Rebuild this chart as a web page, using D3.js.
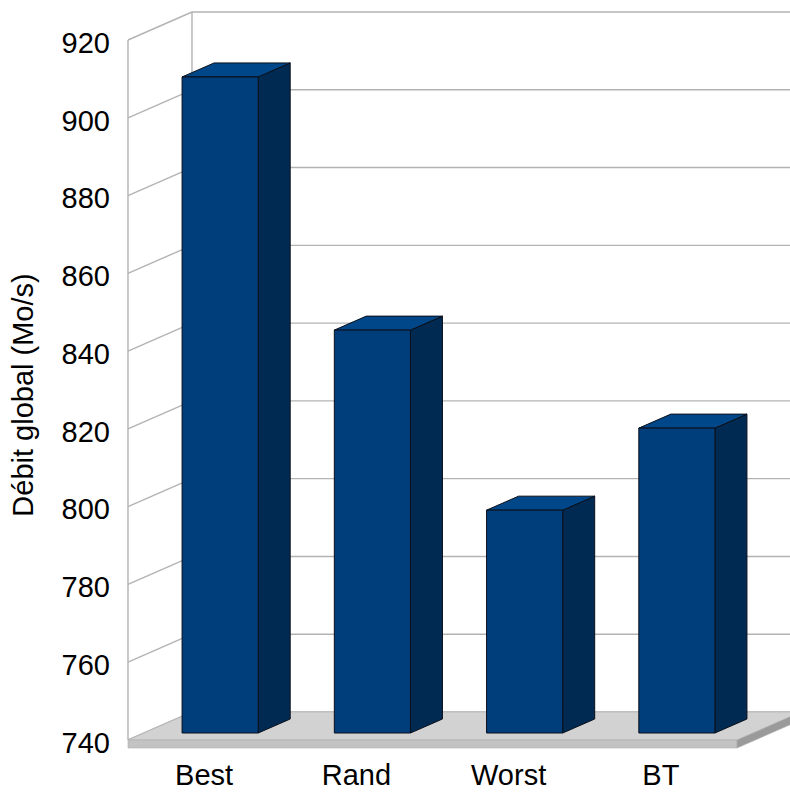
<!DOCTYPE html>
<html>
<head>
<meta charset="utf-8">
<script src="https://cdn.jsdelivr.net/npm/d3@7"></script>
<style>
  html, body { margin: 0; padding: 0; background: #ffffff; }
  svg { display: block; }
  text { font-family: "Liberation Sans", Arial, sans-serif; fill: #000; }
</style>
</head>
<body>
<svg id="chart" width="790" height="792"></svg>
<script>
// Débit global par stratégie
const categories = ["Best", "Rand", "Worst", "BT"];
const debit = [908.7, 843.6, 797.3, 818.4];
const tickValues = [740, 760, 780, 800, 820, 840, 860, 880, 900, 920];
const yTitle = "Débit global (Mo/s)";

const svg = d3.select("#chart");

// front plane of the 3D box
const x0 = 128, x1 = 737, yBottom = 740, yTop = 40;
// oblique depth vector (full depth of the box)
const depth = { dx: 64, dy: -28 };
// projects a depth fraction (0 = front, 1 = back) to pixel offsets
const dz = d3.scaleLinear().domain([0, 1]).range([0, 1]);
const off = t => [depth.dx * dz(t), depth.dy * dz(t)];

const y = d3.scaleLinear().domain([740, 920]).range([yBottom, yTop]);
const x = d3.scaleBand().domain(categories).range([x0, x1])
  .paddingInner(0.5).paddingOuter(0.25);

const gridColor = "#b3b3b3";
const [bx, by] = off(1);

// walls: gridlines on the back wall and the left side wall
const walls = svg.append("g").attr("fill", "none").attr("stroke", gridColor).attr("stroke-width", 1.4);
tickValues.forEach(v => {
  const yy = y(v);
  walls.append("line").attr("x1", x0 + bx).attr("x2", x1 + bx + 10)
    .attr("y1", yy + by).attr("y2", yy + by);
  walls.append("line").attr("x1", x0).attr("x2", x0 + bx)
    .attr("y1", yy).attr("y2", yy + by);
});
walls.append("line").attr("x1", x0).attr("x2", x0).attr("y1", y(920)).attr("y2", y(740));
walls.append("line").attr("x1", x0 + bx).attr("x2", x0 + bx).attr("y1", y(920) + by).attr("y2", y(740) + by);

// floor slab
const slab = 8;
const floor = svg.append("g").attr("stroke", "#b0b0b0").attr("stroke-width", 0.6);
const pts = a => a.map(p => p.join(",")).join(" ");
floor.append("polygon").attr("fill", "#d2d2d2")
  .attr("points", pts([[x0, yBottom], [x1, yBottom], [x1 + bx, yBottom + by], [x0 + bx, yBottom + by]]));
floor.append("polygon").attr("fill", "#c3c3c3")
  .attr("points", pts([[x0, yBottom], [x1, yBottom], [x1, yBottom + slab], [x0, yBottom + slab]]));
floor.append("polygon").attr("fill", "#9a9a9a")
  .attr("points", pts([[x1, yBottom], [x1 + bx, yBottom + by], [x1 + bx, yBottom + by + slab], [x1, yBottom + slab]]));

// bars: front face at depth 0.25, back face at 0.75
const [fx, fy] = off(0.25);
const [kx, ky] = off(0.75);
const bars = svg.append("g").attr("stroke", "#0a0f1a").attr("stroke-width", 1)
  .attr("stroke-linejoin", "round");
categories.forEach((c, i) => {
  const l = x(c), r = x(c) + x.bandwidth();
  const t = y(debit[i]), b = y(740);
  const g = bars.append("g");
  // right side
  g.append("polygon").attr("fill", "#002a52")
    .attr("points", pts([[r + fx, t + fy], [r + kx, t + ky], [r + kx, b + ky], [r + fx, b + fy]]));
  // top
  g.append("polygon").attr("fill", "#004789")
    .attr("points", pts([[l + fx, t + fy], [r + fx, t + fy], [r + kx, t + ky], [l + kx, t + ky]]));
  // front
  g.append("rect").attr("fill", "#003d7b")
    .attr("x", l + fx).attr("y", t + fy).attr("width", r - l).attr("height", b - t);
});

// value axis labels
const fs = 29;
svg.append("g").selectAll("text").data(tickValues).join("text")
  .attr("x", x0 - 18).attr("y", d => y(d)).attr("dy", "0.44em")
  .attr("text-anchor", "end").attr("font-size", fs).text(d => d);

// category labels
svg.append("g").selectAll("text").data(categories).join("text")
  .attr("x", d => x(d) + x.bandwidth() / 2).attr("y", 785)
  .attr("text-anchor", "middle").attr("font-size", fs).text(d => d);

// axis title
svg.append("text").attr("transform", "translate(33,395) rotate(-90)")
  .attr("text-anchor", "middle").attr("font-size", fs).text(yTitle);
</script>
</body>
</html>
